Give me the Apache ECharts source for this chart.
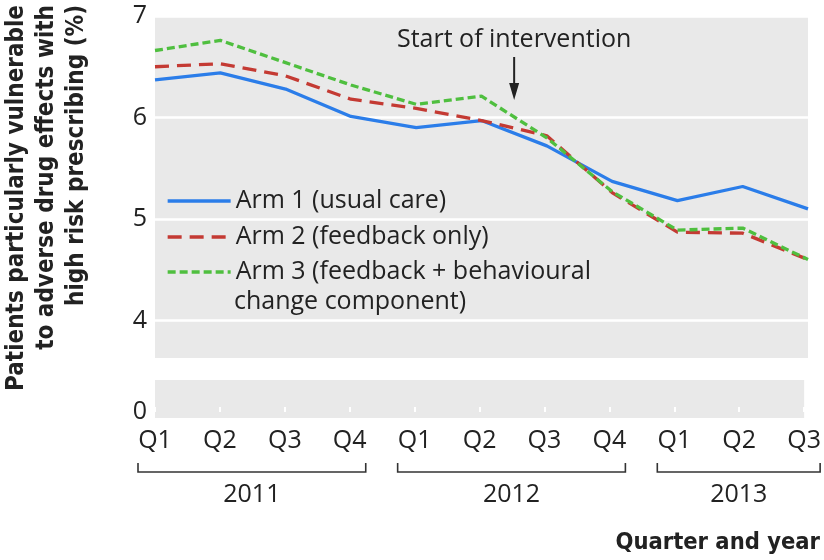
<!DOCTYPE html>
<html><head><meta charset="utf-8">
<script src="https://cdn.jsdelivr.net/npm/echarts@6/dist/echarts.min.js"></script>
<style>html,body{margin:0;padding:0;background:#fff}#c{width:824px;height:560px}</style>
</head><body><div id="c"></div><script>
// ---- data ----
const periods = ['2011 Q1','2011 Q2','2011 Q3','2011 Q4','2012 Q1','2012 Q2','2012 Q3','2012 Q4','2013 Q1','2013 Q2','2013 Q3'];
const years = ['2011','2012','2013'];
const arm1 = [6.37,6.44,6.28,6.01,5.90,5.97,5.72,5.37,5.18,5.32,5.10];
const arm2 = [6.50,6.53,6.41,6.18,6.09,5.97,5.82,5.26,4.87,4.86,4.60];
const arm3 = [6.66,6.76,6.54,6.32,6.13,6.21,5.80,5.27,4.89,4.91,4.60];
const upperTicks = [4,5,6,7];
const lowerTicks = [0];
const seriesNames = ['Arm 1 (usual care)','Arm 2 (feedback only)','Arm 3 (feedback + behavioural change component)'];
const arm3Break = ' behavioural ';
const interventionBetween = ['2012 Q2','2012 Q3'];
const annotationText = 'Start of intervention';
const yTitle = 'Patients particularly vulnerable\nto adverse drug effects with\nhigh risk prescribing (%)';
const xTitle = 'Quarter and year';

// ---- style ----
const LIGHT = "'Open Sans', sans-serif";
const BOLD = "'DejaVu Sans Condensed', 'DejaVu Sans', sans-serif";
const TXT = '#222';
const PANEL = '#e9e9e9';
const colors = ['#2b7de9', '#c43a33', '#4fbf3f'];
const FS = 25;
const LH = 30;
const LW = 3.3;
const LEG_LEFT = 166, LEG_ICON_W = 63;

const chart = echarts.init(document.getElementById('c'), null, {renderer: 'canvas'});

const legendText = {fontFamily: LIGHT, fontSize: FS, color: TXT, lineHeight: LH};
const splitAt = arm3Break.length - 1;
const arm3First = seriesNames[2].slice(0, seriesNames[2].indexOf(arm3Break) + splitAt);
const arm3Second = seriesNames[2].slice(seriesNames[2].indexOf(arm3Break) + arm3Break.length);

const option = {
  animation: false,
  grid: [
    {left: 155, right: 16, top: 16, height: 342, show: true, backgroundColor: PANEL, borderWidth: 0},
    {left: 155, right: 16, top: 380, height: 38, show: true, backgroundColor: PANEL, borderWidth: 0}
  ],
  xAxis: [
    {gridIndex: 0, type: 'category', data: periods, boundaryGap: false,
     axisLine: {show: false}, axisTick: {show: false}, axisLabel: {show: false}, splitLine: {show: false}},
    {gridIndex: 1, type: 'category', data: periods, boundaryGap: false,
     axisLine: {show: false},
     axisTick: {show: true, inside: true, length: 5, alignWithLabel: true, lineStyle: {color: '#fff', width: 2}},
     axisLabel: {show: true, margin: 10, fontFamily: LIGHT, fontSize: FS, color: TXT, formatter: v => v.split(' ')[1]},
     splitLine: {show: false}}
  ],
  yAxis: [
    {gridIndex: 0, type: 'value', min: 3.63, max: 7,
     axisLine: {show: false},
     axisTick: {show: false, customValues: upperTicks},
     axisLabel: {customValues: upperTicks, margin: 8, fontFamily: LIGHT, fontSize: FS, color: TXT},
     splitLine: {show: true, lineStyle: {color: '#fff', width: 2.5}}},
    {gridIndex: 1, type: 'value', min: -0.06, max: 0.32,
     axisLine: {show: false},
     axisTick: {show: false, customValues: lowerTicks},
     axisLabel: {customValues: lowerTicks, margin: 8, fontFamily: LIGHT, fontSize: FS, color: TXT},
     splitLine: {show: false}}
  ],
  legend: [
    {data: [seriesNames[0], seriesNames[1]], orient: 'vertical', left: LEG_LEFT, top: 186, padding: 0,
     itemWidth: LEG_ICON_W, itemHeight: 14, itemGap: 6, textStyle: legendText, selectedMode: false,
     itemStyle: {opacity: 0}, lineStyle: {width: LW}},
    {data: [seriesNames[2]], orient: 'vertical', left: LEG_LEFT, top: 257, padding: 0,
     itemWidth: LEG_ICON_W, itemHeight: 14, itemGap: 6, textStyle: legendText, selectedMode: false,
     itemStyle: {opacity: 0}, lineStyle: {width: LW},
     formatter: () => arm3First}
  ],
  series: [
    {name: seriesNames[0], type: 'line', data: arm1, xAxisIndex: 0, yAxisIndex: 0, symbol: 'none',
     lineStyle: {color: colors[0], width: LW}, itemStyle: {color: colors[0]}, z: 3},
    {name: seriesNames[1], type: 'line', data: arm2, xAxisIndex: 0, yAxisIndex: 0, symbol: 'none',
     lineStyle: {color: colors[1], width: LW, type: [14, 8]}, itemStyle: {color: colors[1]}, z: 4},
    {name: seriesNames[2], type: 'line', data: arm3, xAxisIndex: 0, yAxisIndex: 0, symbol: 'none',
     lineStyle: {color: colors[2], width: LW, type: [8, 4]}, itemStyle: {color: colors[2]}, z: 5}
  ]
};
chart.setOption(option);

// ---- decorations positioned from the axes ----
const px = (axisIdx, i) => chart.convertToPixel({xAxisIndex: axisIdx}, i);
const graphics = [];

// continuation line of the third legend entry
graphics.push({type: 'text', x: LEG_LEFT + LEG_ICON_W + 5, y: 257 + LH / 2 + LH,
  style: {text: arm3Second, fontFamily: LIGHT, fontSize: FS, fill: TXT, align: 'left', verticalAlign: 'middle'}});

// year brackets
const bracketY = 472;
years.forEach(y => {
  const idx = periods.map((p, i) => p.startsWith(y) ? i : -1).filter(i => i >= 0);
  const x0 = px(1, idx[0]) - 17, x1 = px(1, idx[idx.length - 1]) + 16;
  graphics.push({type: 'polyline', shape: {points: [[x0, bracketY - 9], [x0, bracketY], [x1, bracketY], [x1, bracketY - 9]]},
    style: {stroke: '#333', lineWidth: 1.6, fill: null}});
  graphics.push({type: 'text', x: (x0 + x1) / 2, y: 495,
    style: {text: y, fontFamily: LIGHT, fontSize: FS, fill: TXT, align: 'center', verticalAlign: 'middle'}});
});

// intervention arrow
const ax = (px(0, periods.indexOf(interventionBetween[0])) + px(0, periods.indexOf(interventionBetween[1]))) / 2;
graphics.push({type: 'text', x: ax, y: 40,
  style: {text: annotationText, fontFamily: LIGHT, fontSize: FS, fill: TXT, align: 'center', verticalAlign: 'middle'}});
graphics.push({type: 'line', shape: {x1: ax, y1: 57, x2: ax, y2: 86}, style: {stroke: '#222', lineWidth: 2}});
graphics.push({type: 'polygon', shape: {points: [[ax - 5, 83], [ax + 5, 83], [ax, 100]]}, style: {fill: '#222'}});

// axis titles
graphics.push({type: 'text', x: 47, y: 5, rotation: Math.PI / 2,
  style: {text: yTitle, fontFamily: BOLD, fontWeight: 'bold', fontSize: 24, lineHeight: 30, fill: TXT, align: 'right', verticalAlign: 'middle'}});
graphics.push({type: 'text', x: 820, y: 543,
  style: {text: xTitle, fontFamily: BOLD, fontWeight: 'bold', fontSize: 23.5, fill: TXT, align: 'right', verticalAlign: 'middle'}});

chart.setOption({graphic: graphics});
</script></body></html>
